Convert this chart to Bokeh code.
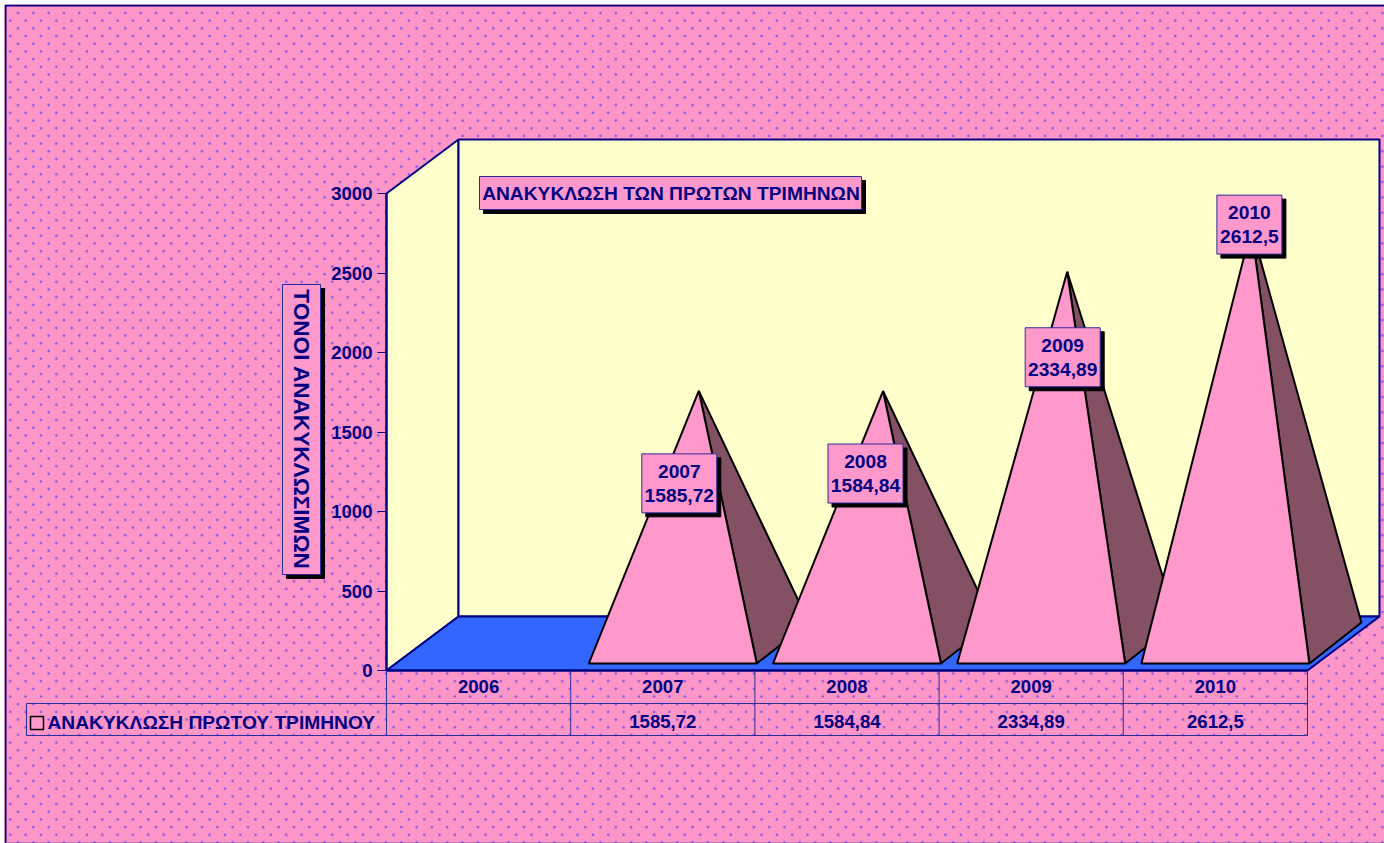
import math
import numpy as np
from bokeh.plotting import figure
from bokeh.models import FixedTicker, Range1d
from bokeh.core.properties import value
from bokeh.embed import file_html
from bokeh.resources import INLINE

# ---- chart data ----
years = ["2006", "2007", "2008", "2009", "2010"]
recycled = [None, 1585.72, 1584.84, 2334.89, 2612.5]
value_labels = ["", "1585,72", "1584,84", "2334,89", "2612,5"]
y_ticks = [0, 500, 1000, 1500, 2000, 2500, 3000]
chart_title = "ΑΝΑΚΥΚΛΩΣΗ ΤΩΝ ΠΡΩΤΩΝ ΤΡΙΜΗΝΩΝ"
y_title = "ΤΟΝΟΙ ΑΝΑΚΥΚΛΩΣΙΜΩΝ"
series_name = "ΑΝΑΚΥΚΛΩΣΗ ΠΡΩΤΟΥ ΤΡΙΜΗΝΟΥ"

# ---- scale set-up (page pixel <-> data) ----
CAT_PX = 184.2
X0_PX, Y0_PX = 387.0, 671.0
UNIT_PX = 477.0 / 3000.0
PAGE = 4                # figure's top-left corner on the page
WIN_W, WIN_H = 1384, 843


def X(px):
    return (px - X0_PX) / CAT_PX


def Y(py):
    return (Y0_PX - py) / UNIT_PX


NAVY = "#000080"
PINK = "#FF99CC"
DARK = "#845064"
YELLOW = "#FFFFCC"
BLUE = "#3366FF"
BOX = "#2C2C98"
FONT = value("Liberation Sans")

w, h = WIN_W - PAGE, WIN_H - PAGE
x_lo, x_hi = PAGE + 1, WIN_W + 1
y_top, y_bot = PAGE + 1, WIN_H + 1

p = figure(
    width=w, height=h,
    x_range=Range1d(X(x_lo), X(x_hi)), y_range=Range1d(Y(y_bot), Y(y_top)),
    output_backend="svg", toolbar_location=None, min_border=0,
    margin=(PAGE, 0, 0, PAGE),
)
p.grid.visible = False
p.outline_line_color = None
p.background_fill_color = PINK
p.border_fill_color = PINK

# ---- dotted background texture ----
tex = np.zeros((h, w, 3), dtype=float)
tex[:, :] = (255, 150, 200)
dot = np.array((20, 20, 255), dtype=float)
rows = int(h / 7.68) + 2
for r in range(rows):
    yc = 12 + r * 7.68 - PAGE
    xs = 17 if r % 2 == 0 else 9.33
    c = 0
    while True:
        xc = xs + c * 15.33 - PAGE
        c += 1
        if xc > w + 2:
            break
        for iy in range(int(yc) - 1, int(yc) + 3):
            for ix in range(int(xc) - 1, int(xc) + 3):
                if 0 <= iy < h and 0 <= ix < w:
                    a = min(1.0, 1.1 * math.exp(-((ix - xc) ** 2 + (iy - yc) ** 2) / 0.75))
                    tex[iy, ix] = tex[iy, ix] * (1 - a) + dot * a
rgba = np.zeros((h, w), dtype=np.uint32)
view = rgba.view(dtype=np.uint8).reshape((h, w, 4))
view[:, :, :3] = tex[::-1].astype(np.uint8)
view[:, :, 3] = 255
p.image_rgba(image=[rgba], x=X(x_lo), y=Y(y_bot), dw=X(x_hi) - X(x_lo), dh=Y(y_top) - Y(y_bot))
p.line([X(6), X(6), X(x_hi)], [Y(y_bot), Y(6), Y(6)], line_color=NAVY, line_width=2)
p.line([X(5), X(x_hi)], [Y(843.5), Y(843.5)], line_color="#7A5AB8", line_width=1)

# ---- 3-D walls ----
DEPTH_X = 72.0 / CAT_PX
DEPTH_Y = 54.0 / UNIT_PX
n = len(years)
p.patch([0, DEPTH_X, DEPTH_X, 0], [0, DEPTH_Y, 3000 + DEPTH_Y, 3000],
        fill_color=YELLOW, line_color=NAVY, line_width=2)
p.patch([DEPTH_X, n + DEPTH_X, n + DEPTH_X, DEPTH_X], [DEPTH_Y, DEPTH_Y, 3000 + DEPTH_Y, 3000 + DEPTH_Y],
        fill_color=YELLOW, line_color=NAVY, line_width=2)
p.patch([0, n, n + DEPTH_X, DEPTH_X], [0, 0, DEPTH_Y, DEPTH_Y],
        fill_color=BLUE, line_color=NAVY, line_width=2)

# ---- pyramids ----
HALF = 84.0 / CAT_PX
FRONT_X, FRONT_Y = 10.0 / CAT_PX, 7.0 / UNIT_PX
BACK_X, BACK_Y = 62.0 / CAT_PX, 48.0 / UNIT_PX
label_offsets = [None, (-19.5, 92.5), (-17.5, 82.5), (-4.5, 85.5), (-2, -3)]
apexes = []
for i, v in enumerate(recycled):
    if v is None:
        apexes.append(None)
        continue
    cx = i + 0.5 + FRONT_X
    ax = i + 0.5 + (FRONT_X + BACK_X) / 2
    ay = v + (FRONT_Y + BACK_Y) / 2
    apexes.append((ax, ay))
    p.patch([cx + HALF, i + 0.5 + BACK_X + HALF, ax], [FRONT_Y, BACK_Y, ay],
            fill_color=DARK, line_color="black", line_width=2)
    p.patch([cx - HALF, cx + HALF, ax], [FRONT_Y, FRONT_Y, ay],
            fill_color=PINK, line_color="black", line_width=2)


def boxed(x0, x1, y0, y1):
    p.quad(left=[X(x0 + 4)], right=[X(x1 + 4)], top=[Y(y0 + 4)], bottom=[Y(y1 + 4)],
           fill_color="black", line_color="black", line_width=1)
    p.quad(left=[X(x0)], right=[X(x1)], top=[Y(y0)], bottom=[Y(y1)],
           fill_color=PINK, line_color=BOX, line_width=1)


def txt(x, y, s, size="19.2px", align="center", angle=0.0):
    p.text([x], [y], text=[s], text_font=FONT, text_font_style="bold", text_font_size=size,
           text_color=NAVY, text_align=align, text_baseline="middle", angle=angle)


# ---- data labels ----
for i, off in enumerate(label_offsets):
    if off is None:
        continue
    ax, ay = apexes[i]
    cxp = ax * CAT_PX + X0_PX + off[0]
    cyp = Y0_PX - ay * UNIT_PX + off[1]
    half_w = 37.5 if len(value_labels[i]) > 6 else 32.5
    boxed(cxp - half_w, cxp + half_w, cyp - 29.5, cyp + 29.5)
    txt(X(cxp), Y(cyp - 12), years[i])
    txt(X(cxp), Y(cyp + 12), value_labels[i])

# ---- titles ----
boxed(480, 862, 177, 210)
txt(X(671.5), Y(193.5), chart_title)
boxed(283, 321, 285, 575)
txt(X(302), Y(430), y_title, size="22.6px", angle=-math.pi / 2)

# ---- data table ----
tbl_mid, tbl_bot, tbl_left = 704, 736, 27
p.line([X(tbl_left), X(tbl_left), n, n, X(tbl_left)],
       [Y(tbl_mid), Y(tbl_bot), Y(tbl_bot), Y(tbl_mid), Y(tbl_mid)], line_color=BOX, line_width=1)
p.segment(x0=list(range(n + 1)), x1=list(range(n + 1)), y0=[0] * (n + 1), y1=[Y(tbl_bot)] * (n + 1),
          line_color=BOX, line_width=1)
p.quad(left=[X(31)], right=[X(44)], top=[Y(717)], bottom=[Y(730)], fill_color=PINK,
       line_color="black", line_width=1.5)
txt(X(48), Y(723), series_name, align="left")
for i, s in enumerate(value_labels):
    if s:
        txt(i + 0.5, Y(722), s, size="18.6px")

# ---- axes ----
ya = p.yaxis[0]
ya.fixed_location = 0
ya.ticker = FixedTicker(ticks=y_ticks)
ya.bounds = (0, 3000)
ya.axis_line_color = NAVY
ya.axis_line_width = 2
ya.major_tick_line_color = NAVY
ya.major_tick_line_width = 1
ya.major_tick_out = 9
ya.major_tick_in = 0
ya.minor_tick_line_color = None
ya.major_label_text_color = NAVY
ya.major_label_text_font = "Liberation Sans"
ya.major_label_text_font_style = "bold"
ya.major_label_text_font_size = "18.6px"
ya.major_label_standoff = 5

xa = p.xaxis[0]
xa.fixed_location = 0
xa.ticker = FixedTicker(ticks=[i + 0.5 for i in range(n)])
xa.major_label_overrides = {i + 0.5: y for i, y in enumerate(years)}
xa.bounds = (0, n)
xa.axis_line_color = NAVY
xa.axis_line_width = 2
xa.major_tick_line_color = None
xa.minor_tick_line_color = None
xa.major_tick_out = 0
xa.major_tick_in = 0
xa.major_label_text_color = NAVY
xa.major_label_text_font = "Liberation Sans"
xa.major_label_text_font_style = "bold"
xa.major_label_text_font_size = "18.6px"
xa.major_label_standoff = 9

open("out.html", "w").write(file_html(p, INLINE))
